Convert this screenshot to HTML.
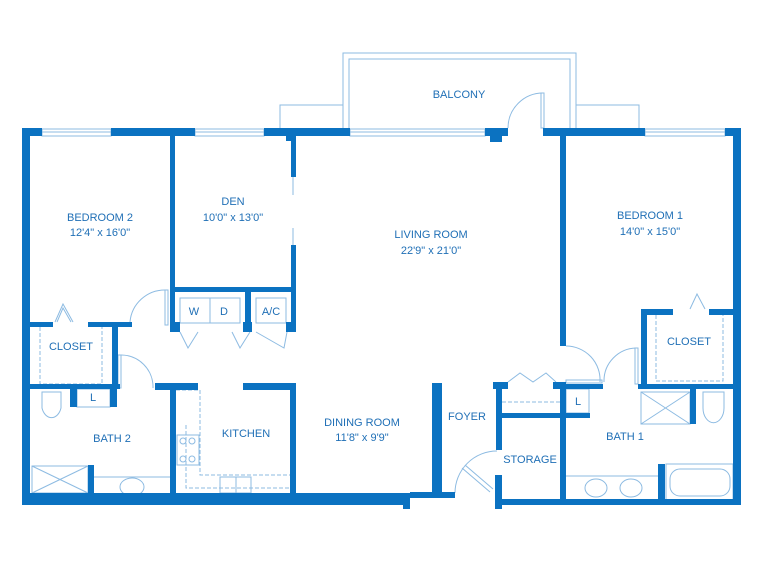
<!DOCTYPE html>
<html><head><meta charset="utf-8"><style>
html,body{margin:0;padding:0;background:#fff;}
svg{display:block;}
text{font-family:"Liberation Sans",sans-serif;font-size:11px;fill:#1f6fb6;text-anchor:middle;}
</style></head><body>
<svg width="764" height="573" viewBox="0 0 764 573" xmlns="http://www.w3.org/2000/svg">
<g fill="none" stroke="#8dbbe2" stroke-width="1">
<!-- balcony -->
<path d="M343 128 V53 H576 V128"/>
<path d="M349 128 V59 H570 V128"/>
<path d="M280 128 V105 H343"/>
<path d="M576 105 H639 V128"/>
<!-- windows -->
<rect x="42" y="129" width="69" height="7"/><line x1="42" y1="132" x2="111" y2="132"/>
<rect x="195" y="129" width="69" height="7"/><line x1="195" y1="132" x2="264" y2="132"/>
<rect x="350" y="129" width="135" height="7"/><line x1="350" y1="132" x2="485" y2="132"/>
<rect x="645" y="129" width="80" height="7"/><line x1="645" y1="132" x2="725" y2="132"/>
<!-- doors -->
<path d="M508 128 A35 35 0 0 1 543 93"/><rect x="541" y="93" width="3" height="35"/>
<path d="M130 322 A35 35 0 0 1 165 290"/><rect x="165" y="290" width="3" height="35"/>
<path d="M120 355 A32 32 0 0 1 153 388"/><rect x="118" y="355" width="3" height="33"/>
<path d="M566 346 A34 34 0 0 1 600 382"/><rect x="566" y="380" width="36" height="3"/>
<path d="M604 382 A33 33 0 0 1 637 348"/><rect x="635" y="348" width="3" height="36"/>
<path d="M455 493 A42 42 0 0 1 497 451"/><path d="M462 468 L490 492 M465 465 L493 489"/>
<line x1="293" y1="177" x2="293" y2="195"/><line x1="293" y1="228" x2="293" y2="245"/>
<path d="M180 332 L188 348 L198 332 M232 332 L240 348 L250 332"/>
<path d="M256 332 L284 348 L287 332"/>
<path d="M55 322 L63 304 L73 322 M57 322 L63 308 L71 322"/>
<path d="M690 309 L697 294 L705 309"/>
<path d="M508 382 L520 373 L533 382 L546 373 L556 382"/>
<!-- closets dashed -->
<path d="M40 327 V384 H102 V327" stroke-dasharray="4 2"/>
<path d="M656 315 V381 H723 V315" stroke-dasharray="4 2"/>
<!-- W D AC -->
<rect x="180" y="298" width="30" height="25"/><rect x="210" y="298" width="30" height="25"/><rect x="256" y="298" width="30" height="25"/>
<!-- bath2 -->
<rect x="77" y="389" width="33" height="18"/>
<path d="M42 392 H61 V408 A10 14 0 0 1 42 408 Z"/>
<rect x="32" y="466" width="56" height="27"/><path d="M32 466 L88 493 M88 466 L32 493"/>
<line x1="94" y1="477" x2="170" y2="477"/><ellipse cx="132" cy="487" rx="12" ry="9"/>
<!-- kitchen -->
<path d="M176 390 H200 V475 H290" stroke-dasharray="4 2"/><path d="M186 425 V488 H290" stroke-dasharray="4 2"/>
<rect x="177" y="435" width="22" height="30"/>
<circle cx="183" cy="441" r="3"/><circle cx="192" cy="441" r="3"/><circle cx="183" cy="459" r="3"/><circle cx="192" cy="459" r="3"/>
<rect x="220" y="477" width="31" height="16"/><line x1="236" y1="477" x2="236" y2="493"/>
<!-- foyer storage shelf -->
<line x1="502" y1="402" x2="560" y2="402" stroke-dasharray="4 2"/>
<rect x="566" y="389" width="23" height="24"/>
<!-- bath1 -->
<rect x="641" y="392" width="49" height="32"/><path d="M641 392 L690 424 M690 392 L641 424"/>
<path d="M703 392 H724 V408 A10 14 0 0 1 703 408 Z"/>
<line x1="566" y1="476" x2="658" y2="476"/><ellipse cx="596" cy="488" rx="11" ry="9"/><ellipse cx="631" cy="488" rx="11" ry="9"/>
<rect x="666" y="464" width="67" height="36"/><rect x="670" y="469" width="60" height="27" rx="10"/>
</g>
<g fill="#0b72c1">
<rect x="22" y="128" width="20" height="8"/><rect x="111" y="128" width="84" height="8"/><rect x="264" y="128" width="86" height="8"/>
<rect x="485" y="128" width="23" height="8"/><rect x="490" y="136" width="12" height="6"/>
<rect x="543" y="128" width="102" height="8"/><rect x="725" y="128" width="16" height="8"/>
<rect x="22" y="128" width="8" height="377"/><rect x="733" y="128" width="8" height="377"/>
<rect x="22" y="493" width="388" height="12"/><rect x="403" y="493" width="7" height="16"/>
<rect x="410" y="492" width="45" height="6"/>
<rect x="497" y="499" width="244" height="6"/><rect x="495" y="475" width="7" height="34"/>
<rect x="170" y="128" width="5" height="204"/><rect x="170" y="322" width="10" height="10"/>
<rect x="175" y="287" width="121" height="5"/>
<rect x="291" y="136" width="5" height="41"/><rect x="286" y="136" width="10" height="5"/><rect x="291" y="245" width="5" height="87"/>
<rect x="245" y="292" width="6" height="40"/><rect x="243" y="322" width="9" height="10"/><rect x="286" y="322" width="10" height="10"/>
<rect x="22" y="322" width="31" height="5"/><rect x="88" y="322" width="44" height="5"/><rect x="112" y="322" width="6" height="66"/>
<rect x="22" y="384" width="98" height="5"/><rect x="70" y="384" width="7" height="23"/><rect x="110" y="384" width="7" height="23"/>
<rect x="88" y="465" width="6" height="30"/>
<rect x="170" y="383" width="6" height="112"/><rect x="155" y="383" width="43" height="7"/>
<rect x="243" y="383" width="53" height="7"/><rect x="290" y="383" width="6" height="112"/>
<rect x="432" y="383" width="10" height="110"/>
<rect x="496" y="382" width="6" height="68"/><rect x="493" y="382" width="15" height="7"/><rect x="553" y="382" width="13" height="7"/>
<rect x="496" y="413" width="94" height="5"/>
<rect x="560" y="128" width="6" height="218"/><rect x="560" y="382" width="6" height="123"/>
<rect x="560" y="384" width="43" height="5"/><rect x="638" y="384" width="103" height="5"/>
<rect x="641" y="309" width="6" height="79"/><rect x="641" y="309" width="32" height="6"/><rect x="709" y="309" width="32" height="6"/>
<rect x="690" y="389" width="6" height="35"/><rect x="658" y="464" width="7" height="36"/>
</g>
<text x="459" y="98">BALCONY</text>
<text x="100" y="221">BEDROOM 2</text><text x="100" y="236">12'4" x 16'0"</text>
<text x="233" y="205">DEN</text><text x="233" y="221">10'0" x 13'0"</text>
<text x="431" y="238">LIVING ROOM</text><text x="431" y="254">22'9" x 21'0"</text>
<text x="650" y="219">BEDROOM 1</text><text x="650" y="235">14'0" x 15'0"</text>
<text x="71" y="350">CLOSET</text><text x="689" y="345">CLOSET</text>
<text x="93" y="401">L</text><text x="578" y="405">L</text>
<text x="194" y="315">W</text><text x="224" y="315">D</text><text x="271" y="315">A/C</text>
<text x="112" y="442">BATH 2</text><text x="246" y="437">KITCHEN</text>
<text x="362" y="426">DINING ROOM</text><text x="362" y="441">11'8" x 9'9"</text>
<text x="467" y="420">FOYER</text><text x="530" y="463">STORAGE</text><text x="625" y="440">BATH 1</text>
</svg>
</body></html>
